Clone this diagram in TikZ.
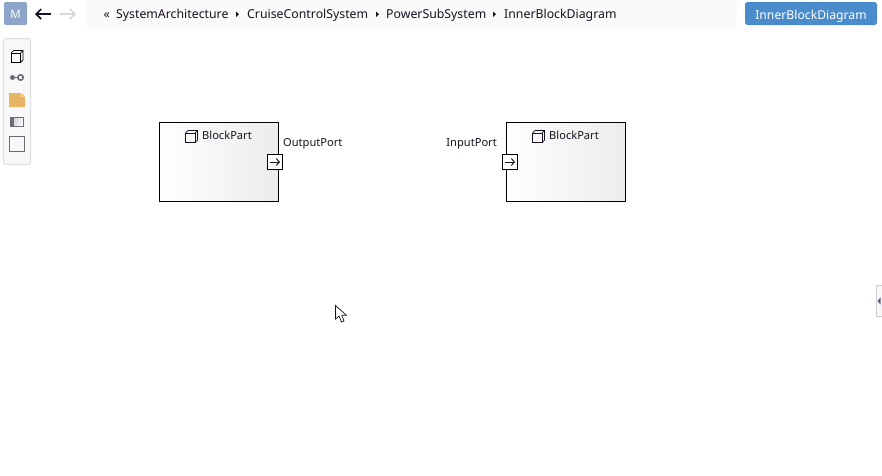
\documentclass[tikz,border=0pt]{standalone}
\usepackage{fontspec}
\setmainfont{Noto Sans}
\usetikzlibrary{arrows.meta}
\definecolor{crumbbg}{HTML}{FAFAFA}
\definecolor{mbtn}{HTML}{8CA5C8}
\definecolor{bluebtn}{HTML}{4A8CCB}
\definecolor{ink}{HTML}{1A1020}
\definecolor{toolbg}{HTML}{F8F8F8}
\definecolor{toolline}{HTML}{DFDFDF}
\definecolor{icongrey}{HTML}{6C6C78}
\definecolor{noteor}{HTML}{E8B565}
\definecolor{blockgrey}{HTML}{ECECEC}
\definecolor{blockmid}{HTML}{FAFAFA}
\definecolor{forwardgrey}{HTML}{D4D8D8}
\tikzset{
  lbl/.style={inner sep=0pt,font=\fontsize{11.1pt}{13pt}\selectfont,text=ink},
  crumb/.style={inner sep=0pt,anchor=base west,font=\fontsize{12.3pt}{14pt}\selectfont,text=ink},
  blockpart/.style={draw=black,line width=1pt,minimum width=119pt,minimum height=79pt,inner sep=0pt,left color=white,middle color=blockmid,right color=blockgrey,shading angle=90},
  portbox/.style={draw=black,line width=1pt,fill=white,minimum width=15pt,minimum height=15pt,inner sep=0pt},
  navarrow/.style={line width=1.7pt,-{Straight Barb[length=5pt,width=10pt]}},
  portarrow/.style={draw=ink,line width=1pt,-{Straight Barb[length=3pt,width=7pt]}},
  cubeicon/.pic={
    \draw[line width=.9pt,draw=#1] (0,2.5) rectangle (9.5,12);
    \draw[line width=.7pt,draw=#1] (0,2.5) -- (2.5,0) -- (12,0) -- (12,9.5) -- (9.5,12) (9.5,2.5) -- (12,0);
  },
  cubeicon/.default=icongrey
}
\begin{document}
\begin{tikzpicture}[x=1pt,y=-1pt]
\useasboundingbox (0,0) rectangle (882,475);
% top bar
\node[fill=mbtn,rounded corners=2pt,minimum width=23pt,minimum height=23pt,inner sep=0pt,text=white,text height=9.4pt,text depth=0pt,font=\bfseries\fontsize{11.5pt}{13pt}\selectfont] (mbutton) at (15.5,13.5) {M};
\coordinate (backfrom) at (51,14); \coordinate (backto) at (35,14);
\draw[navarrow,draw=ink] (backfrom) -- (backto);
\coordinate (fwdfrom) at (60,14); \coordinate (fwdto) at (76,14);
\draw[navarrow,draw=forwardgrey] (fwdfrom) -- (fwdto);
\fill[crumbbg,rounded corners=4pt] (86,-6) rectangle (737,29);
\node[crumb] (c0) at (103.5,18.5) {«};
\node[crumb] (c1) at (116,18.5) {SystemArchitecture};
\node[crumb] (c2) at (247,18.5) {CruiseControlSystem};
\node[crumb] (c3) at (386,18.5) {PowerSubSystem};
\node[crumb] (c4) at (504,18.5) {InnerBlockDiagram};
\foreach \x in {236,376,493}{\fill[ink] (\x,11.5) -- (\x+3,14.2) -- (\x,17) -- cycle;}
\node[fill=bluebtn,rounded corners=2.5pt,minimum width=132pt,minimum height=23pt,inner sep=0pt,text=white,text height=11pt,text depth=0pt,font=\fontsize{12.2pt}{14pt}\selectfont] (diagbtn) at (811,13.5) {InnerBlockDiagram};
% toolbar
\draw[toolline,fill=toolbg,rounded corners=2pt,line width=1pt] (3.5,38.5) rectangle (30.5,164.5);
\pic at (11,50.5) {cubeicon};
\fill[icongrey] (12.5,77.5) circle (2.5pt);
\draw[icongrey,line width=1pt] (12.5,77.5) -- (18,77.5);
\draw[icongrey,line width=1.6pt] (20.5,77.5) circle (2.7pt);
\fill[noteor] (9,93) -- (21,93) -- (21,97) -- (25,97) -- (25,107) -- (9,107) -- cycle;
\fill[noteor] (22,93.5) -- (25,96.5) -- (22,96.5) -- cycle;
\shade[left color=icongrey!30,right color=white,shading angle=60] (13,117.5) rectangle (23.5,126.5);
\fill[icongrey] (10,117) rectangle (14,127);
\draw[icongrey,line width=1pt] (10.5,117.5) rectangle (23.5,126.5);
\draw[icongrey,line width=1pt] (9.5,136.5) rectangle (24.5,151.5);
% blocks
\node[blockpart] (blockA) at (219,162) {};
\node[blockpart] (blockB) at (566,162) {};
\pic at (185.5,130.5) {cubeicon=ink};
\pic at (532.5,130.5) {cubeicon=ink};
\node[lbl,anchor=base west] (nameA) at (202,139) {BlockPart};
\node[lbl,anchor=base west] (nameB) at (549,139) {BlockPart};
\node[portbox] (portA) at (275,162) {};
\node[portbox] (portB) at (510,162) {};
\draw[portarrow] ([xshift=-5pt]portA.center) -- ([xshift=5pt]portA.center);
\draw[portarrow] ([xshift=-5pt]portB.center) -- ([xshift=5pt]portB.center);
\node[lbl,anchor=base west] (outlabel) at (283,146.5) {OutputPort};
\node[lbl,anchor=base east] (inlabel) at (497,146.5) {InputPort};
% cursor
\draw[ink,fill=white,line width=.7pt,line join=miter] (335.5,305.5) -- (335.5,319) -- (339,316) -- (341.5,322) -- (344,321) -- (341.8,315.3) -- (346.5,315.3) -- cycle;
% side tab
\draw[black!20,fill=toolbg,line width=1pt] (882,285.5) -- (876.5,285.5) -- (876.5,316.5) -- (882,316.5);
\fill[icongrey!80!blue] (880.5,297.5) -- (880.5,304.5) -- (877.5,301) -- cycle;
\end{tikzpicture}
\end{document}
